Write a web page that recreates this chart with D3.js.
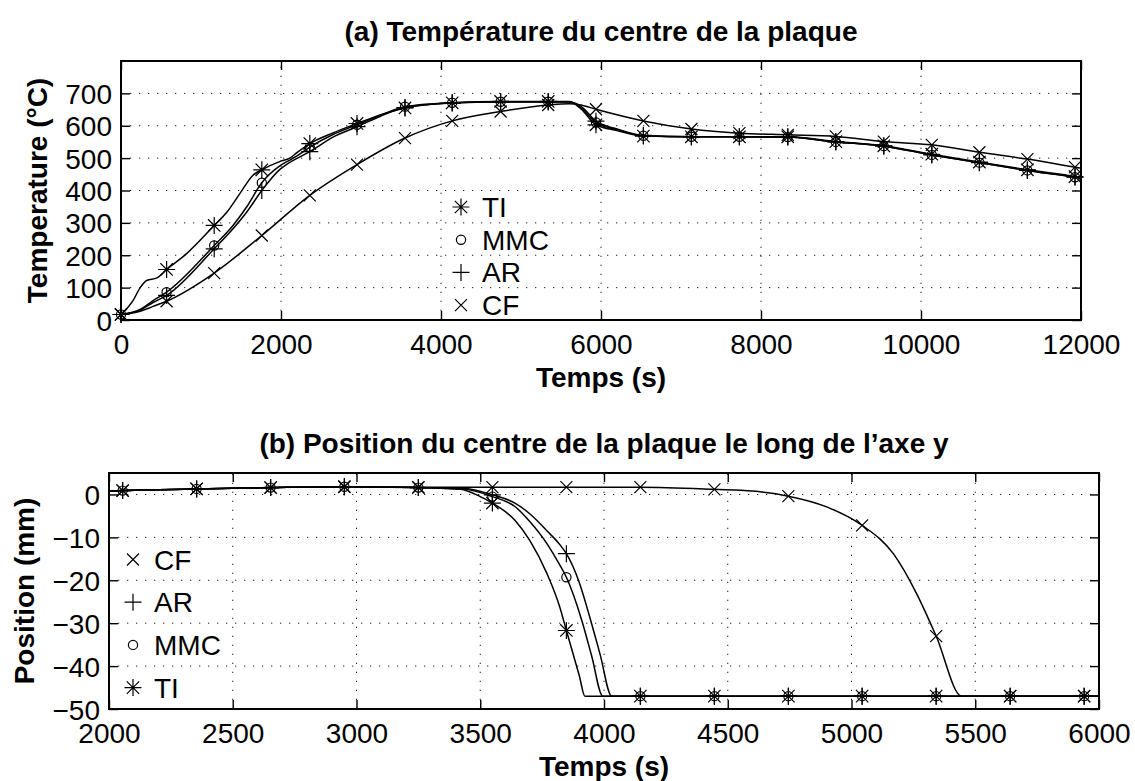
<!DOCTYPE html>
<html><head><meta charset="utf-8">
<script src="https://cdn.jsdelivr.net/npm/d3@7"></script>
<style>
body{margin:0;background:#fff}
svg{display:block}
text{font-family:"Liberation Sans",Arial,Helvetica,sans-serif;fill:#000}
</style>
</head><body>
<svg id="c" width="1135" height="781"></svg>
<script>
// ---------------- DATA ----------------
// (a) Température du centre de la plaque
const titleA = "(a) Température du centre de la plaque";
const xLabelA = "Temps (s)";
const yLabelA = "Temperature (°C)";
const xTicksA = [0, 2000, 4000, 6000, 8000, 10000, 12000];
const yTicksA = [0, 100, 200, 300, 400, 500, 600, 700];
const xDomainA = [0, 12000];
const yDomainA = [0, 800];

const timeMarksA = [0, 570, 1165, 1760, 2360, 2950, 3550, 4140, 4745, 5340, 5937, 6530, 7130, 7730, 8335, 8935, 9535, 10135, 10730, 11330, 11925];
const tiMarksA  = [17, 156, 292, 464, 545, 607, 655, 671, 675, 675, 603, 568, 566, 566, 566, 551, 538, 512, 488, 464, 443];
const mmcMarksA = [17, 86, 230, 424, 534, 603, 659, 671, 674, 674, 610, 569, 566, 566, 565, 550, 537, 510, 486, 462, 441];
const arMarksA  = [17, 76, 220, 400, 520, 597, 656, 670, 673, 673, 614, 570, 566, 566, 565, 550, 537, 510, 486, 462, 441];
const cfMarksA  = [17, 58, 145, 261, 385, 480, 562, 615, 644, 664, 651, 615, 590, 577, 572, 567, 551, 541, 518, 497, 472];

const tiExtraA  = [[150, 60], [240, 100], [320, 122], [450, 130], [820, 205], [1320, 332], [1490, 392], [1650, 447], [1990, 490], [2110, 500], [2200, 517], [2650, 578], [3250, 634], [5600, 675], [5750, 652], [6200, 585], [12000, 440]];
const mmcExtraA = [[250, 34], [400, 60], [1400, 292], [1570, 349], [1990, 477], [2110, 494], [2200, 507], [2650, 573], [3250, 633], [5600, 674], [5750, 655], [6200, 588], [12000, 438]];
const arExtraA  = [[250, 32], [400, 54], [1400, 282], [1570, 333], [1990, 466], [2110, 487], [2200, 499], [2650, 565], [3250, 630], [5600, 673], [5750, 660], [6200, 590], [12000, 438]];
const cfExtraA  = [[250, 28], [400, 42], [5600, 668], [5750, 664], [12000, 469]];

const legendA = ["TI", "MMC", "AR", "CF"];

// (b) Position du centre de la plaque le long de l'axe y
const titleB = "(b) Position du centre de la plaque le long de l’axe y";
const xLabelB = "Temps (s)";
const yLabelB = "Position (mm)";
const xTicksB = [2000, 2500, 3000, 3500, 4000, 4500, 5000, 5500, 6000];
const yTicksB = [-50, -40, -30, -20, -10, 0];
const xDomainB = [2000, 6000];
const yDomainB = [-50, 5];

const timeMarksB = [2055, 2354, 2653, 2951, 3250, 3549, 3848, 4147, 4446, 4745, 5043, 5342, 5641, 5940];
const tiMarksB  = [0.9, 1.3, 1.6, 1.8, 1.6, -2.0, -31.7, -47, -47, -47, -47, -47, -47, -47];
const mmcMarksB = [0.9, 1.3, 1.6, 1.8, 1.6, -0.5, -19.3, -47, -47, -47, -47, -47, -47, -47];
const arMarksB  = [0.9, 1.3, 1.6, 1.8, 1.6, -0.1, -13.8, -47, -47, -47, -47, -47, -47, -47];
const cfMarksB  = [0.9, 1.3, 1.6, 1.8, 1.7, 1.7, 1.7, 1.7, 1.2, -0.4, -7.2, -33.0, -47, -47];

const tiExtraB  = [[2000, 0.8], [3420, 1.2], [3500, -0.5], [3640, -6.0], [3700, -10.7], [3770, -18.5], [3820, -26.0], [3900, -42.2], [3923, -47], [6000, -47]];
const mmcExtraB = [[2000, 0.8], [3430, 1.3], [3640, -2.8], [3700, -6.3], [3770, -11.5], [3820, -16.3], [3910, -29.3], [3950, -37.6], [3995, -47], [6000, -47]];
const arExtraB  = [[2000, 0.8], [3440, 1.4], [3640, -2.0], [3700, -4.5], [3770, -8.5], [3820, -11.6], [3900, -20.5], [3946, -29.3], [3984, -37.2], [4031, -47], [6000, -47]];
const cfExtraB  = [[2000, 0.8], [4600, 0.8], [4900, -2.9], [5169, -13.8], [5263, -23.1], [5445, -47], [6000, -47]];

const legendB = ["CF", "AR", "MMC", "TI"];

const markerOf = {TI: "star", MMC: "circle", AR: "plus", CF: "cross"};

// ---------------- HELPERS ----------------
function build(times, marks, extra) {
  const pts = times.map((t, i) => ({t, v: marks[i], m: true}));
  extra.forEach(([t, v]) => pts.push({t, v, m: false}));
  pts.sort((a, b) => a.t - b.t);
  return pts;
}

function markerPath(type, x, y) {
  const s = 8.5, d = 6.2, c = 6;
  if (type === "star") return `M${x-s},${y}H${x+s}M${x},${y-s}V${y+s}M${x-d},${y-d}L${x+d},${y+d}M${x-d},${y+d}L${x+d},${y-d}`;
  if (type === "plus") return `M${x-s},${y}H${x+s}M${x},${y-s}V${y+s}`;
  if (type === "cross") return `M${x-c},${y-c}L${x+c},${y+c}M${x-c},${y+c}L${x+c},${y-c}`;
  return null;
}
function drawMarker(g, type, x, y) {
  if (type === "circle") {
    g.append("circle").attr("cx", x).attr("cy", y).attr("r", 4.6)
      .attr("fill", "none").attr("stroke", "#000").attr("stroke-width", 1.2);
  } else {
    g.append("path").attr("d", markerPath(type, x, y))
      .attr("fill", "none").attr("stroke", "#000").attr("stroke-width", 1.2);
  }
}

const svg = d3.select("#c");
svg.append("rect").attr("width", 1135).attr("height", 781).attr("fill", "#fff");

function panel(cfg) {
  const {left, right, top, bottom} = cfg;
  const x = d3.scaleLinear().domain(cfg.xDomain).range([left, right]);
  const y = d3.scaleLinear().domain(cfg.yDomain).range([bottom, top]);
  const g = svg.append("g");
  const fmt = d3.format("d");

  // grid
  const grid = g.append("g").attr("stroke", "#222").attr("stroke-width", 1).attr("stroke-dasharray", "1.3,7.7");
  cfg.xTicks.filter(t => t !== cfg.xDomain[0] && t !== cfg.xDomain[1]).forEach(t => {
    grid.append("line").attr("x1", x(t)).attr("x2", x(t)).attr("y1", bottom).attr("y2", top);
  });
  cfg.yTicks.filter(t => t !== cfg.yDomain[0] && t !== cfg.yDomain[1]).forEach(t => {
    grid.append("line").attr("x1", left).attr("x2", right).attr("y1", y(t)).attr("y2", y(t));
  });

  // axes with inward ticks
  const axB = d3.axisBottom(x).tickValues(cfg.xTicks).tickFormat(fmt).tickSize(-9).tickPadding(0);
  const axT = d3.axisTop(x).tickValues(cfg.xTicks).tickFormat("").tickSize(-9);
  const axL = d3.axisLeft(y).tickValues(cfg.yTicks).tickFormat(fmt).tickSize(-9).tickPadding(0);
  const axR = d3.axisRight(y).tickValues(cfg.yTicks).tickFormat("").tickSize(-9);
  function style(sel) {
    sel.select(".domain").remove();
    sel.selectAll(".tick line").attr("stroke", "#000").attr("stroke-width", 1.4);
  }
  const gb = g.append("g").attr("transform", `translate(0,${bottom})`).call(axB).call(style);
  gb.selectAll(".tick text").attr("y", 34).attr("dy", 0).attr("font-size", 28)
    .attr("font-family", '"Liberation Sans",Arial,sans-serif').attr("fill", "#000");
  g.append("g").attr("transform", `translate(0,${top})`).call(axT).call(style);
  const gl = g.append("g").attr("transform", `translate(${left},0)`).call(axL).call(style);
  gl.selectAll(".tick text").attr("x", -9).attr("dy", "0.36em").attr("font-size", 28)
    .attr("font-family", '"Liberation Sans",Arial,sans-serif').attr("fill", "#000");
  g.append("g").attr("transform", `translate(${right},0)`).call(axR).call(style);

  // series
  const line = d3.line().x(d => x(d.t)).y(d => y(d.v)).curve(d3.curveMonotoneX);
  cfg.series.forEach(s => {
    g.append("path").datum(s.pts).attr("d", line).attr("fill", "none")
      .attr("stroke", "#000").attr("stroke-width", 1.5).attr("stroke-linejoin", "round");
  });
  cfg.series.forEach(s => {
    s.pts.filter(p => p.m).forEach(p => drawMarker(g, markerOf[s.name], x(p.t), y(p.v)));
  });

  // box
  g.append("rect").attr("x", left).attr("y", top).attr("width", right - left).attr("height", bottom - top)
    .attr("fill", "none").attr("stroke", "#000").attr("stroke-width", 2);

  // title & labels
  g.append("text").attr("x", (left + right) / 2).attr("y", top - 20).attr("text-anchor", "middle")
    .attr("font-size", 28).attr("font-weight", "bold").text(cfg.title);
  g.append("text").attr("x", (left + right) / 2).attr("y", bottom + 67).attr("text-anchor", "middle")
    .attr("font-size", 28).attr("font-weight", "bold").text(cfg.xLabel);
  g.append("text").attr("transform", `translate(${cfg.yLabelX},${(top + bottom) / 2}) rotate(-90)`)
    .attr("text-anchor", "middle").attr("font-size", 28).attr("font-weight", "bold").text(cfg.yLabel);

  // legend (no box)
  cfg.legend.forEach((name, i) => {
    const ly = cfg.legY + i * cfg.legStep;
    drawMarker(g, markerOf[name], cfg.legX, ly);
    g.append("text").attr("x", cfg.legX + 21).attr("y", ly + 10).attr("font-size", 28).text(name);
  });
}

panel({
  left: 121, right: 1081, top: 61, bottom: 320,
  xDomain: xDomainA, yDomain: yDomainA, xTicks: xTicksA, yTicks: yTicksA,
  title: titleA, xLabel: xLabelA, yLabel: yLabelA, yLabelX: 47,
  series: [
    {name: "TI", pts: build(timeMarksA, tiMarksA, tiExtraA)},
    {name: "MMC", pts: build(timeMarksA, mmcMarksA, mmcExtraA)},
    {name: "AR", pts: build(timeMarksA, arMarksA, arExtraA)},
    {name: "CF", pts: build(timeMarksA, cfMarksA, cfExtraA)}
  ],
  legend: legendA, legX: 461, legY: 207, legStep: 32.7
});

panel({
  left: 109, right: 1099, top: 473, bottom: 709,
  xDomain: xDomainB, yDomain: yDomainB, xTicks: xTicksB, yTicks: yTicksB,
  title: titleB, xLabel: xLabelB, yLabel: yLabelB, yLabelX: 34,
  series: [
    {name: "TI", pts: build(timeMarksB, tiMarksB, tiExtraB)},
    {name: "MMC", pts: build(timeMarksB, mmcMarksB, mmcExtraB)},
    {name: "AR", pts: build(timeMarksB, arMarksB, arExtraB)},
    {name: "CF", pts: build(timeMarksB, cfMarksB, cfExtraB)}
  ],
  legend: legendB, legX: 133, legY: 559.5, legStep: 42.7
});
</script>
</body></html>
